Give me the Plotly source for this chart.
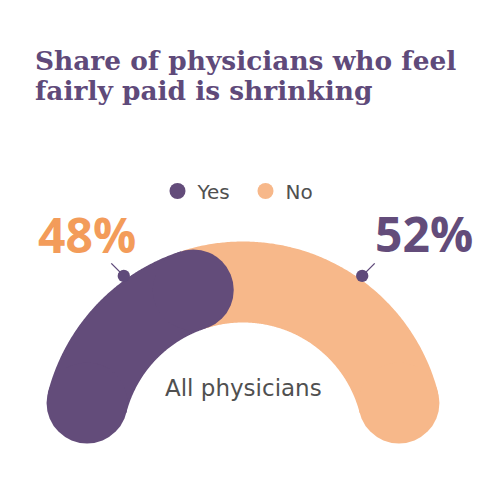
import numpy as np
import plotly.graph_objects as go

# data
categories = ["Yes", "No"]
shares = [48, 52]
colors = ["#634c7a", "#f7b88a"]
label_colors = ["#f39c5a", "#634c7a"]
center_label = "All physicians"

TITLE_LINES = ["Share of physicians who feel", "fairly paid is shrinking"]
PURPLE = "#5f4a7a"
GRAY = "#505050"

# geometry of the half ring (mid-line radius = 1)
R_MID = 1.0
THICK_PX = 81
CAP_DEG = 14.4  # angle taken up by the rounded cap


def arc(a0, a1, n=200):
    t = np.radians(np.linspace(a0, a1, n))
    return R_MID * np.cos(t), R_MID * np.sin(t)


fig = go.Figure()

total = sum(shares)
bounds = [180.0]
for s in shares:
    bounds.append(bounds[-1] - 180.0 * s / total)

# draw "No" first so the "Yes" cap sits on top of it
for i in reversed(range(len(categories))):
    start = bounds[i] - CAP_DEG
    end = bounds[i + 1] + CAP_DEG
    if i == 1:
        start = bounds[1] + CAP_DEG  # hidden under the Yes cap
    x, y = arc(start, end)
    fig.add_trace(go.Scatter(
        x=x, y=y, mode="lines",
        line=dict(color=colors[i], width=THICK_PX, simplify=False),
        showlegend=False, hoverinfo="skip",
    ))
    caps = [start, end] if i == 0 else [end]
    cx, cy = arc(caps[0], caps[-1], len(caps))
    fig.add_trace(go.Scatter(
        x=cx, y=cy, mode="markers",
        marker=dict(color=colors[i], size=THICK_PX, line=dict(width=0)),
        showlegend=False, hoverinfo="skip",
    ))

# legend entries
for i, c in enumerate(categories):
    fig.add_trace(go.Scatter(
        x=[None], y=[None], mode="markers",
        marker=dict(color=colors[i], size=16),
        name=c, showlegend=True,
    ))

# percentage labels with leader dots
label_angles = [125.5, 54.5]
text_shift = [(-37, 41), (62, 42)]
lead = [(-14, -14), (14, -14)]
for i, s in enumerate(shares):
    t = np.radians(label_angles[i])
    px, py = 1.275 * np.cos(t), 1.275 * np.sin(t)
    fig.add_annotation(
        x=px, y=py, text="", showarrow=True,
        arrowhead=6, arrowsize=2.2, arrowwidth=1.4, arrowcolor=PURPLE,
        ax=lead[i][0], ay=lead[i][1], standoff=0,
    )
    fig.add_annotation(
        x=px, y=py, xshift=text_shift[i][0], yshift=text_shift[i][1],
        text="<b>%d%%</b>" % s, showarrow=False,
        font=dict(family="Open Sans", size=48, color=label_colors[i]),
    )

fig.add_annotation(
    x=0, y=0.34, text=center_label, showarrow=False,
    font=dict(family="DejaVu Sans", size=23, color=GRAY),
)

# title, one annotation per line for tighter leading
for k, line in enumerate(TITLE_LINES):
    fig.add_annotation(
        xref="paper", yref="paper", x=0.05, y=0.894 - 0.06 * k,
        xanchor="left", yanchor="middle", showarrow=False,
        text="<b>%s</b>" % line,
        font=dict(family="DejaVu Serif", size=26.4, color=PURPLE),
    )

# the page puts an 8px body margin round the figure, so the plot is laid
# out 8px up and left of where it should land
fig.update_layout(
    width=500, height=500,
    margin=dict(l=0, r=0, t=0, b=0),
    paper_bgcolor="white", plot_bgcolor="white",
    legend=dict(
        orientation="h", x=0.475, xanchor="center", y=0.634, yanchor="middle",
        font=dict(family="DejaVu Sans", size=20, color=GRAY),
        itemsizing="trace", bgcolor="rgba(0,0,0,0)", entrywidth=43,
    ),
    xaxis=dict(range=[-235 / 161, 265 / 161], visible=False, fixedrange=True),
    yaxis=dict(range=[-65 / 161, 435 / 161], visible=False, fixedrange=True),
    showlegend=True,
)

fig.write_html("out.html")
